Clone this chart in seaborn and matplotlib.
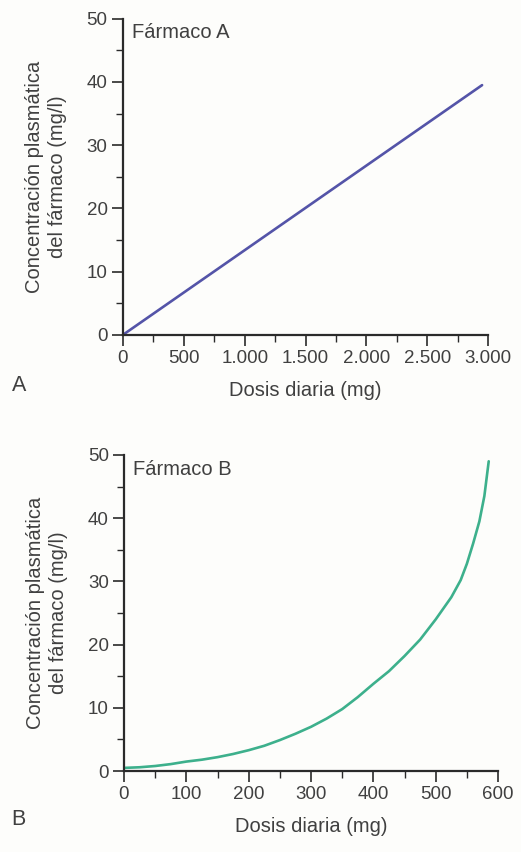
import matplotlib
matplotlib.use("Agg")
import matplotlib.pyplot as plt
import seaborn as sns
import pandas as pd
from matplotlib.ticker import MultipleLocator, FuncFormatter

# Drug A: linear dose-concentration relationship
dose_a = [0, 2950]
conc_a = [0.0, 39.5]

# Drug B: saturable elimination, concentration rises steeply
dose_b = [0, 25, 50, 75, 100, 125, 150, 175, 200, 225, 250, 275, 300, 325, 350,
          375, 400, 425, 450, 475, 500, 525, 540, 550, 560, 570, 578, 585]
conc_b = [0.5, 0.6, 0.8, 1.1, 1.5, 1.8, 2.2, 2.7, 3.3, 4.0, 4.9, 5.9, 7.0, 8.3, 9.8,
          11.7, 13.8, 15.8, 18.2, 20.8, 24.0, 27.5, 30.2, 32.8, 36.0, 39.5, 43.5, 49.0]

xticks_a = [0, 500, 1000, 1500, 2000, 2500, 3000]
xticks_b = [0, 100, 200, 300, 400, 500, 600]
yticks = [0, 10, 20, 30, 40, 50]

sns.set_style("ticks")
plt.rcParams["font.family"] = ["Liberation Sans", "DejaVu Sans"]

TEXT = "#404040"
FS = 14.5
fig = plt.figure(figsize=(5.21, 8.52), dpi=100)
fig.patch.set_facecolor("#fdfdfb")

ax_a = fig.add_axes([0.236, 0.607, 0.701, 0.371])
ax_b = fig.add_axes([0.238, 0.095, 0.718, 0.371])

df_a = pd.DataFrame({"dose": dose_a, "conc": conc_a})
df_b = pd.DataFrame({"dose": dose_b, "conc": conc_b})

sns.lineplot(data=df_a, x="dose", y="conc", ax=ax_a, color="#5454a8", linewidth=1.9)
sns.lineplot(data=df_b, x="dose", y="conc", ax=ax_b, color="#3db08c", linewidth=1.9)

def thousands(v, pos):
    return f"{int(v):,}".replace(",", ".")

for ax, xt, xmax, minor_x, name in [
    (ax_a, xticks_a, 3000, 250, "Fármaco A"),
    (ax_b, xticks_b, 600, 50, "Fármaco B"),
]:
    ax.set_facecolor("none")
    ax.set_xlim(0, xmax)
    ax.set_ylim(0, 50)
    ax.set_xticks(xt)
    ax.set_yticks(yticks)
    ax.xaxis.set_minor_locator(MultipleLocator(minor_x))
    ax.yaxis.set_minor_locator(MultipleLocator(5))
    ax.xaxis.set_major_formatter(FuncFormatter(thousands))
    for side in ["top", "right"]:
        ax.spines[side].set_visible(False)
    for side in ["left", "bottom"]:
        ax.spines[side].set_color("#2a2a2a")
        ax.spines[side].set_linewidth(1.6)
    ax.tick_params(axis="both", which="major", length=8, width=1.2,
                   color="#2a2a2a", labelsize=FS - 1, labelcolor=TEXT, pad=3)
    ax.tick_params(axis="both", which="minor", length=5, width=1.0, color="#2a2a2a")
    ax.set_xlabel("Dosis diaria (mg)", fontsize=FS, color=TEXT, labelpad=10)
    ax.set_ylabel("Concentración plasmática\ndel fármaco (mg/l)", fontsize=FS,
                  color=TEXT, labelpad=14, linespacing=1.3)
    ax.text(0.025, 0.985, name, transform=ax.transAxes, ha="left", va="top",
            fontsize=FS, color=TEXT)

fig.text(0.022, 0.548, "A", fontsize=FS + 1, color=TEXT, ha="left", va="center")
fig.text(0.022, 0.038, "B", fontsize=FS + 1, color=TEXT, ha="left", va="center")

fig.savefig("out.png", dpi=100, facecolor=fig.get_facecolor())
